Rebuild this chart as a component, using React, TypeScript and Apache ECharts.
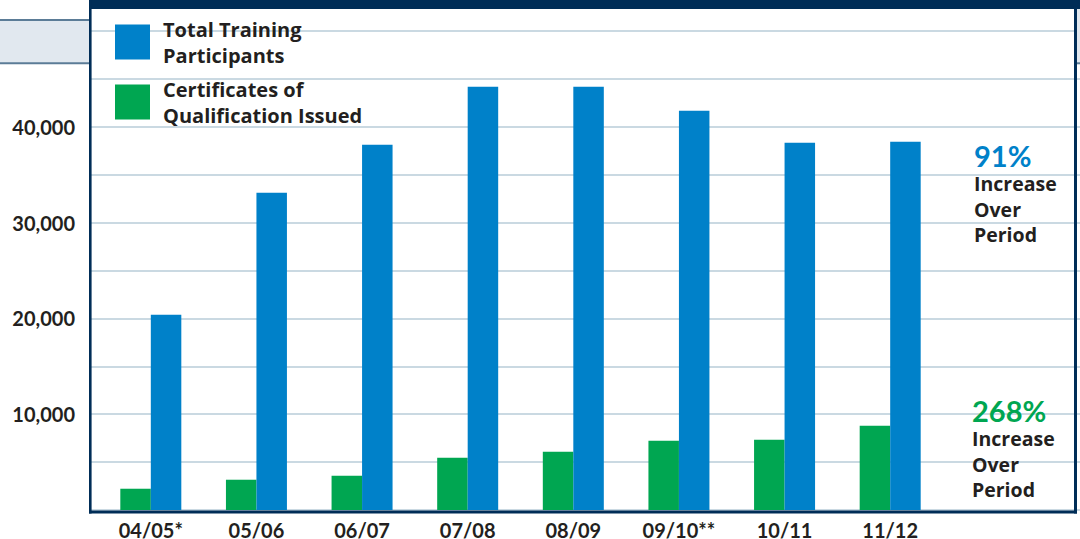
import React, { useEffect, useRef } from "react";
import * as echarts from "echarts";

const categories = ["04/05*", "05/06", "06/07", "07/08", "08/09", "09/10**", "10/11", "11/12"];
const certificates = [2220, 3160, 3580, 5460, 6090, 7240, 7340, 8800];
const participants = [20390, 33120, 38130, 44190, 44190, 41680, 38340, 38440];
const yLabelValues = [10000, 20000, 30000, 40000];
const seriesNames = ["Total Training\nParticipants", "Certificates of\nQualification Issued"];
const participantsIncrease = "91%";
const certificatesIncrease = "268%";
const increaseText = "Increase\nOver\nPeriod";

const NAVY = "#002d57";
const BLUE = "#0081c9";
const GREEN = "#00a651";
const TEXT = "#231f20";
const NUM_FONT = "Lato";
const WORD_FONT = "'Open Sans'";

export default function App() {
  const ref = useRef<HTMLDivElement>(null);
  useEffect(() => {
    if (!ref.current) return;
    const chart = echarts.init(ref.current, null, { renderer: "svg" });
    const txt = (text: string, x: number, y: number, size: number, color: string, family: string, lh?: number) => ({
      type: "text",
      z: 110,
      x,
      y,
      style: {
        text,
        fill: color,
        fontFamily: family,
        fontWeight: "bold",
        fontSize: size,
        lineHeight: lh ?? size,
        textAlign: "left",
        align: "left",
        textVerticalAlign: "middle",
        verticalAlign: "middle",
      },
    });
    const option: any = {
      animation: false,
      backgroundColor: "#ffffff",
      grid: [
        { left: 91, right: 0, top: 31, height: 479, outerBoundsMode: "none" },
        { left: 98, width: 845, top: 31, height: 479, outerBoundsMode: "none" },
      ],
      xAxis: [
        { type: "value", gridIndex: 0, min: 0, max: 1, show: false },
        {
          type: "category",
          gridIndex: 1,
          data: categories,
          axisLine: { show: false },
          axisTick: { show: false },
          axisLabel: {
            margin: 12,
            fontFamily: NUM_FONT,
            fontWeight: "bold",
            fontSize: 20,
            lineHeight: 16,
            color: TEXT,
          },
        },
      ],
      yAxis: [
        {
          type: "value",
          gridIndex: 0,
          min: 0,
          max: 50000,
          interval: 5000,
          axisLine: { show: false },
          axisTick: { show: false },
          splitLine: { lineStyle: { color: "#b9ccd9", width: 1.5 } },
          axisLabel: {
            margin: 16,
            fontFamily: NUM_FONT,
            fontWeight: "bold",
            fontSize: 20,
            color: TEXT,
            formatter: (v: number) =>
              yLabelValues.includes(v) ? v.toLocaleString("en-US") : "",
          },
        },
        { type: "value", gridIndex: 1, min: 0, max: 50000, show: false },
      ],
      legend: {
        orient: "vertical",
        left: 110,
        top: 6,
        itemWidth: 35,
        itemHeight: 35,
        itemGap: -2,
        icon: "rect",
        selectedMode: false,
        data: seriesNames,
        textStyle: {
          fontFamily: WORD_FONT,
          fontWeight: "bold",
          fontSize: 20,
          lineHeight: 26,
          color: TEXT,
          padding: [10, 0, 0, 8],
        },
      },
      series: [
        {
          type: "bar",
          name: seriesNames[1],
          xAxisIndex: 1,
          yAxisIndex: 1,
          data: certificates,
          barWidth: 30.5,
          barGap: "0%",
          itemStyle: { color: GREEN },
        },
        {
          type: "bar",
          name: seriesNames[0],
          xAxisIndex: 1,
          yAxisIndex: 1,
          data: participants,
          barWidth: 30.5,
          barGap: "0%",
          itemStyle: { color: BLUE },
        },
      ],
      graphic: [
        { type: "rect", z: 100, shape: { x: 0, y: 20, width: 89, height: 44 }, style: { fill: "#e1e8ef" } },
        { type: "line", z: 101, shape: { x1: 0, y1: 20, x2: 89, y2: 20 }, style: { stroke: "#5b7c97", lineWidth: 2 } },
        { type: "line", z: 101, shape: { x1: 0, y1: 63.3, x2: 89, y2: 63.3 }, style: { stroke: "#5b7c97", lineWidth: 2 } },
        { type: "rect", z: 100, shape: { x: 1077, y: 9, width: 3, height: 55 }, style: { fill: "#e1e8ef" } },
        { type: "line", z: 101, shape: { x1: 1077, y1: 63.3, x2: 1080, y2: 63.3 }, style: { stroke: "#5b7c97", lineWidth: 2 } },
        { type: "rect", z: 102, shape: { x: 89, y: 0, width: 991, height: 9 }, style: { fill: NAVY } },
        { type: "rect", z: 102, shape: { x: 89, y: 0, width: 2.6, height: 513.5 }, style: { fill: NAVY } },
        { type: "rect", z: 102, shape: { x: 1074, y: 0, width: 3, height: 513.5 }, style: { fill: NAVY } },
        { type: "rect", z: 102, shape: { x: 89, y: 510.5, width: 988, height: 3 }, style: { fill: NAVY } },
        txt(participantsIncrease, 974, 155, 29, BLUE, NUM_FONT),
        txt(increaseText, 974, 209, 19.5, TEXT, WORD_FONT, 25.5),
        txt(certificatesIncrease, 972, 410, 29, GREEN, NUM_FONT),
        txt(increaseText, 972, 464, 19.5, TEXT, WORD_FONT, 25.5),
      ],
    };
    chart.setOption(option);
    return () => chart.dispose();
  }, []);
  return (
    <div
      ref={ref}
      style={{ position: "fixed", left: 0, top: 0, width: 1080, height: 539, background: "#fff" }}
    />
  );
}
